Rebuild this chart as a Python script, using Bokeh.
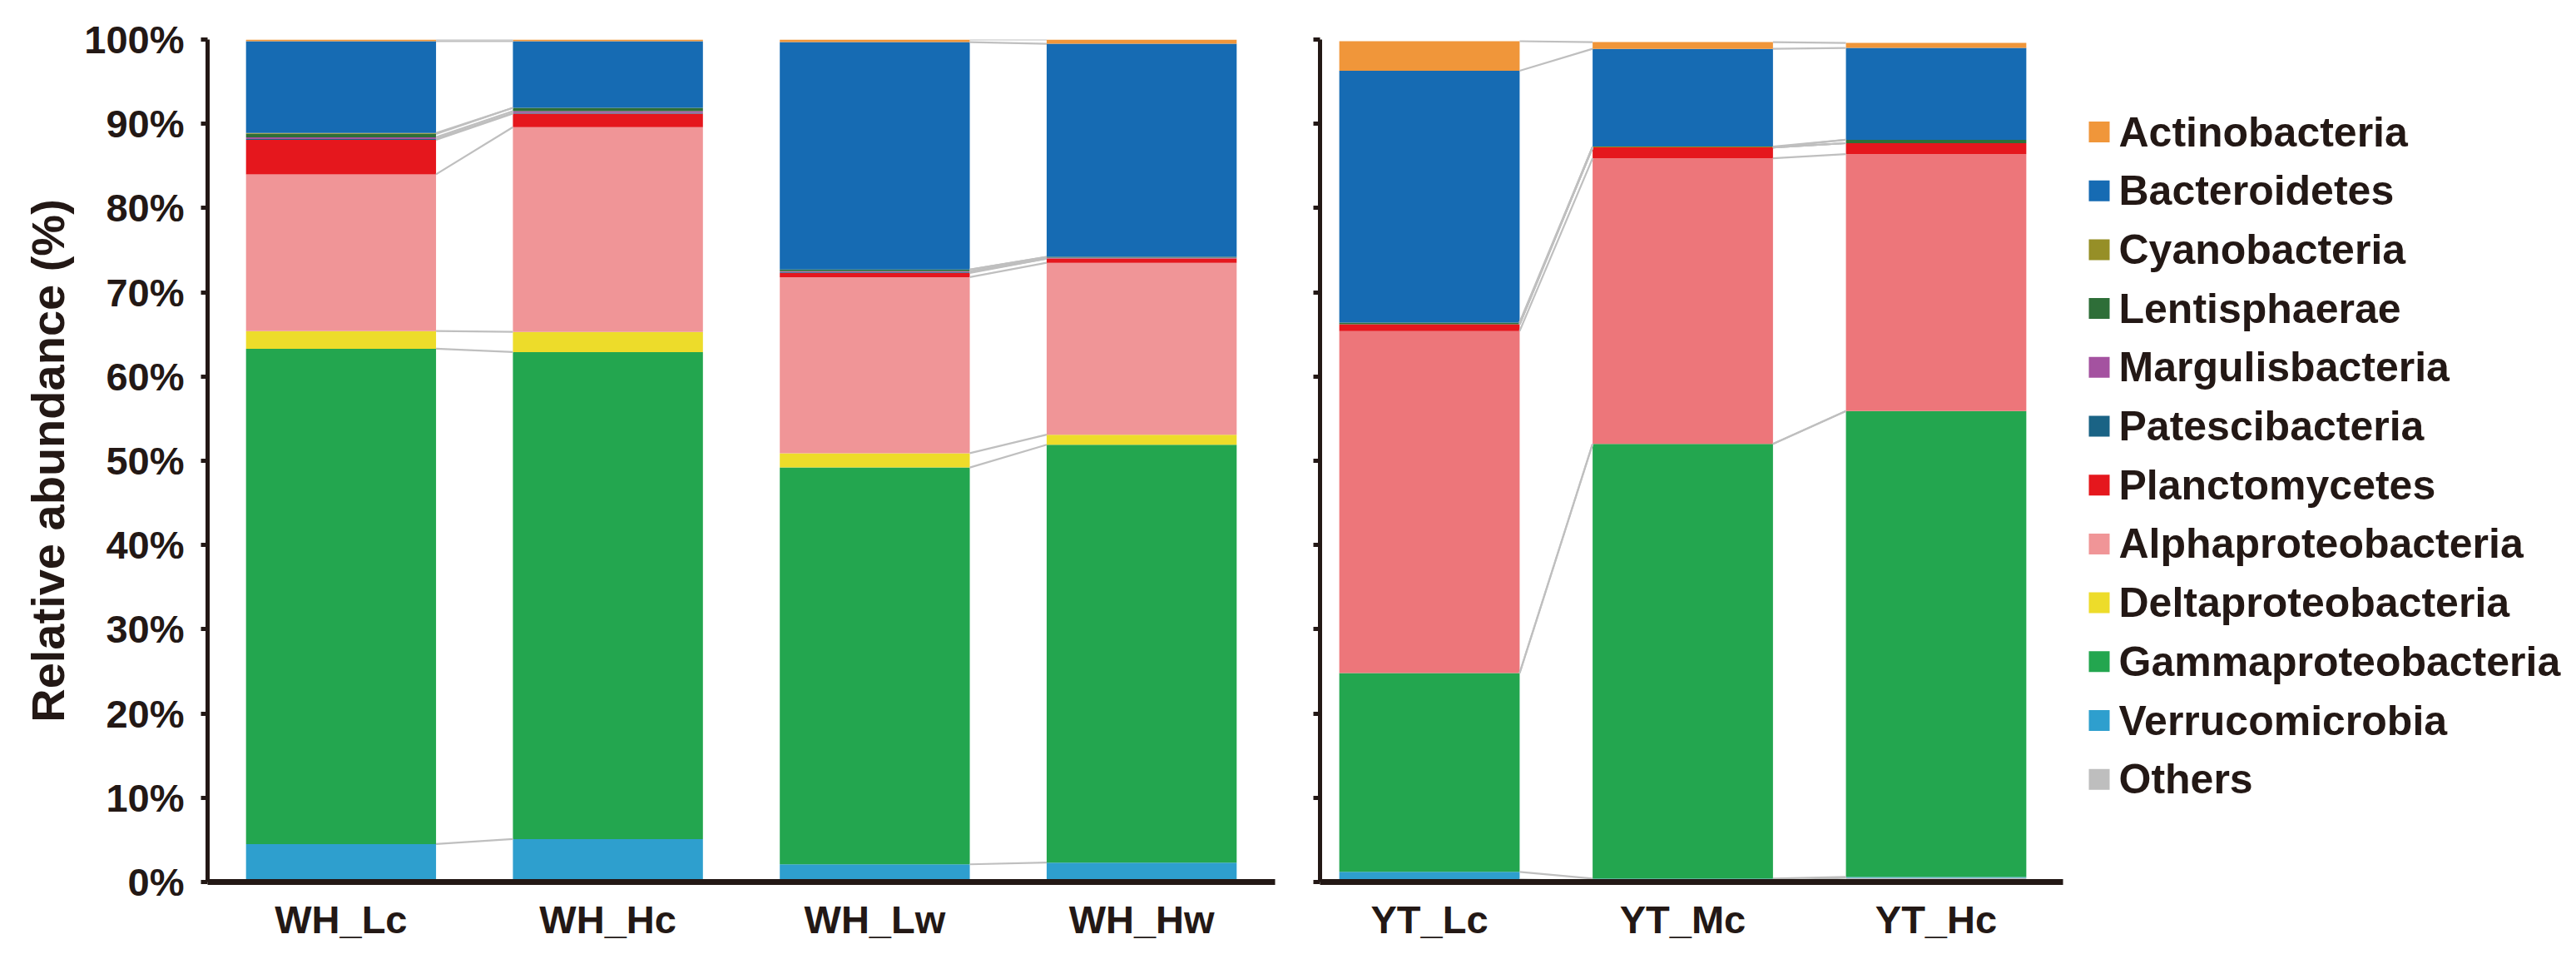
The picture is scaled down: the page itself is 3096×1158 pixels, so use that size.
import numpy as np
from bokeh.plotting import figure
from bokeh.models import Range1d, FixedTicker
from bokeh.layouts import row
from bokeh.core.properties import value
from bokeh.embed import file_html
from bokeh.resources import INLINE

# ---------------- data ----------------
wh_samples = ["WH_Lc", "WH_Hc", "WH_Lw", "WH_Hw"]
yt_samples = ["YT_Lc", "YT_Mc", "YT_Hc"]

# stacking order bottom -> top
phyla = ["Others", "Verrucomicrobia", "Gammaproteobacteria", "Deltaproteobacteria",
         "Alphaproteobacteria", "Planctomycetes", "Patescibacteria", "Margulisbacteria",
         "Lentisphaerae", "Cyanobacteria", "Bacteroidetes", "Actinobacteria"]

# relative abundance (%), values for WH_Lc, WH_Hc, WH_Lw, WH_Hw, YT_Lc, YT_Mc, YT_Hc
others          = [0.1, 0.1, 0.2, 0.1, 0.3, 0.1, 0.5]
verrucomicrobia = [4.4, 5.0, 1.9, 2.2, 0.9, 0.3, 0.1]
gammaproteo     = [58.8, 57.8, 47.1, 49.6, 23.6, 51.6, 55.3]
deltaproteo     = [2.1, 2.4, 1.7, 1.2, 0.0, 0.0, 0.0]
alphaproteo     = [18.6, 24.3, 20.9, 20.4, 40.6, 33.9, 30.5]
planctomycetes  = [4.1, 1.6, 0.5, 0.5, 0.8, 1.3, 1.3]
patescibacteria = [0.1, 0.1, 0.1, 0.0, 0.0, 0.0, 0.0]
margulisbact    = [0.2, 0.2, 0.1, 0.1, 0.0, 0.0, 0.0]
lentisphaerae   = [0.4, 0.4, 0.2, 0.1, 0.2, 0.0, 0.4]
cyanobacteria   = [0.1, 0.0, 0.0, 0.0, 0.0, 0.1, 0.0]
bacteroidetes   = [10.9, 7.9, 27.0, 25.3, 29.9, 11.6, 10.9]
actinobacteria  = [0.2, 0.2, 0.3, 0.5, 3.5, 0.8, 0.6]

series = [others, verrucomicrobia, gammaproteo, deltaproteo, alphaproteo, planctomycetes,
          patescibacteria, margulisbact, lentisphaerae, cyanobacteria, bacteroidetes, actinobacteria]

colors = ["#BEBEBE", "#2E9FCE", "#23A64F", "#EDDC2A", "#F09597", "#E5171D",
          "#1A6385", "#A452A0", "#2E6E38", "#968F27", "#166BB3", "#F0963A"]
alpha_color_yt = "#ED767A"

y_ticks = [0, 10, 20, 30, 40, 50, 60, 70, 80, 90, 100]
y_tick_labels = ["0%", "10%", "20%", "30%", "40%", "50%", "60%", "70%", "80%", "90%", "100%"]

wh_links = [(0, 1), (2, 3)]
yt_links = [(0, 1), (1, 2)]

# ---------------- style ----------------
FONT = "Liberation Sans"
INK = "#231815"
BAR_W = 0.712
LINK_COLOR = "#BFBFBF"
H = 1140
TOP = 47
FRAME_H = 1012
BOTTOM = H - TOP - FRAME_H


def style_axes(p, names, show_labels):
    p.xgrid.visible = False
    p.ygrid.visible = False
    p.outline_line_color = None
    xa = p.xaxis[0]
    xa.ticker = FixedTicker(ticks=list(range(len(names))))
    xa.major_label_overrides = {i: n for i, n in enumerate(names)}
    xa.axis_line_width = 7
    xa.axis_line_color = INK
    xa.major_tick_line_color = None
    xa.minor_tick_line_color = None
    xa.major_label_standoff = 12
    xa.major_label_text_font = FONT
    xa.major_label_text_font_style = "bold"
    xa.major_label_text_font_size = "47px"
    xa.major_label_text_color = INK
    ya = p.yaxis[0]
    ya.ticker = FixedTicker(ticks=y_ticks)
    if show_labels:
        ya.major_label_overrides = {t: l for t, l in zip(y_ticks, y_tick_labels)}
    else:
        ya.major_label_overrides = {t: "" for t in y_ticks}
    ya.axis_line_width = 5
    ya.axis_line_color = INK
    ya.major_tick_line_width = 5
    ya.major_tick_line_color = INK
    ya.major_tick_out = 8
    ya.major_tick_in = 0
    ya.minor_tick_line_color = None
    ya.major_label_standoff = 20
    ya.major_label_text_font = FONT
    ya.major_label_text_font_style = "bold"
    ya.major_label_text_font_size = "47px"
    ya.major_label_text_color = INK


def draw_panel(p, cols, names, links, alpha_col=None):
    n = len(names)
    xs = np.arange(n, dtype=float)
    mat = np.array([[s[c] for c in cols] for s in series])
    bottom = np.zeros(n)
    for k, vals in enumerate(mat):
        c = colors[k]
        if alpha_col is not None and phyla[k] == "Alphaproteobacteria":
            c = alpha_col
        top = bottom + vals
        p.vbar(x=xs, bottom=bottom, top=top, width=BAR_W, fill_color=c, line_color=None)
        bottom = top
    cum = np.cumsum(mat, axis=0)
    x0, y0, x1, y1 = [], [], [], []
    for i, j in links:
        for k in range(cum.shape[0]):
            x0.append(xs[i] + BAR_W / 2)
            x1.append(xs[j] - BAR_W / 2)
            y0.append(cum[k, i])
            y1.append(cum[k, j])
    p.segment(x0=x0, y0=y0, x1=x1, y1=y1, line_color=LINK_COLOR, line_width=2.2)


# ---------------- left panel ----------------
p1 = figure(width=1552, height=H, x_range=Range1d(-0.5, 3.5), y_range=Range1d(0, 100),
            output_backend="svg", toolbar_location=None,
            min_border_left=249, min_border_right=20, min_border_top=TOP, min_border_bottom=BOTTOM)
draw_panel(p1, [0, 1, 2, 3], wh_samples, wh_links)
style_axes(p1, wh_samples, True)
p1.yaxis.axis_label = "Relative abundance (%)"
p1.yaxis.axis_label_text_font = FONT
p1.yaxis.axis_label_text_font_style = "bold"
p1.yaxis.axis_label_text_font_size = "56px"
p1.yaxis.axis_label_text_color = INK
p1.yaxis.axis_label_standoff = 9

# ---------------- right panel ----------------
p2 = figure(width=933, height=H, x_range=Range1d(-0.432, 2.501), y_range=Range1d(0, 100),
            output_backend="svg", toolbar_location=None,
            min_border_left=34, min_border_right=6, min_border_top=TOP, min_border_bottom=BOTTOM)
draw_panel(p2, [4, 5, 6], yt_samples, yt_links, alpha_col=alpha_color_yt)
style_axes(p2, yt_samples, False)

# ---------------- legend panel (entries listed top -> bottom) ----------------
legend_names = list(reversed(phyla))
legend_colors = list(reversed(colors))
LEG_STEP = 70.7          # px between entries
LEG_FIRST = 111.0        # px from frame top to first entry centre
W3 = 595
p3 = figure(width=W3, height=H, x_range=Range1d(0, W3),
            y_range=Range1d((FRAME_H - LEG_FIRST) / LEG_STEP, -LEG_FIRST / LEG_STEP),
            x_axis_type=None, y_axis_type=None, output_backend="svg", toolbar_location=None,
            min_border_left=0, min_border_right=0, min_border_top=TOP, min_border_bottom=BOTTOM)
p3.xgrid.visible = False
p3.ygrid.visible = False
p3.outline_line_color = None
leg_y = list(range(len(legend_names)))
p3.rect(x=[37.5] * len(leg_y), y=leg_y, width=25, height=25, width_units="screen",
        height_units="screen", fill_color=legend_colors, line_color=None)
p3.text(x=[61] * len(leg_y), y=leg_y, text=legend_names, text_baseline="middle", text_align="left",
        text_font=value(FONT), text_font_style="bold", text_font_size="50px", text_color=INK)

layout = row(p1, p2, p3, spacing=0)
open("out.html", "w").write(file_html(layout, INLINE))
